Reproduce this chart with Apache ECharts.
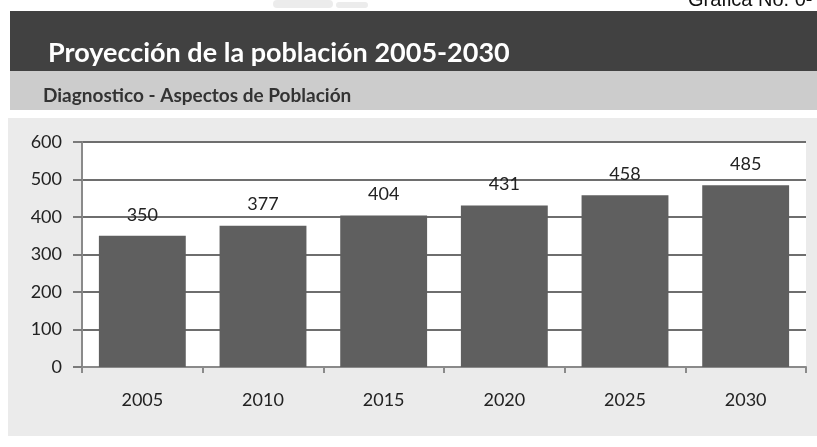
<!DOCTYPE html>
<html>
<head>
<meta charset="utf-8">
<script src="https://cdn.jsdelivr.net/npm/echarts@6/dist/echarts.min.js"></script>
<style>
html,body{margin:0;padding:0;background:#fff;}
#c{width:817px;height:447px;}
</style>
</head>
<body>
<div id="c"></div>
<script>
const categories = ['2005', '2010', '2015', '2020', '2025', '2030'];
const poblacion = [350, 377, 404, 431, 458, 485];
const yTicks = [0, 100, 200, 300, 400, 500, 600];

const titleText = 'Proyección de la población 2005-2030';
const subtitleText = 'Diagnostico - Aspectos de Población';
const cornerText = 'Grafica No. 0-';

const chart = echarts.init(document.getElementById('c'), null, {renderer: 'canvas'});
const FONT = 'Lato, "Open Sans", sans-serif';

chart.setOption({
  backgroundColor: '#ffffff',
  animation: false,
  graphic: [
    {type: 'rect', z: -10, shape: {x: 10, y: 11, width: 807, height: 60}, style: {fill: '#414141'}},
    {type: 'rect', z: -10, shape: {x: 10, y: 71, width: 807, height: 39}, style: {fill: '#cccccc'}},
    {type: 'rect', z: -10, shape: {x: 8, y: 118, width: 809, height: 318}, style: {fill: '#ebebeb'}},
    {type: 'rect', z: -10, shape: {x: 273, y: 0, width: 60, height: 8, r: 4}, style: {fill: '#ececec'}},
    {type: 'rect', z: -10, shape: {x: 336, y: 2, width: 32, height: 6, r: 3}, style: {fill: '#ececec'}},
    {type: 'text', z: 10, style: {x: 48, y: 53, text: titleText, fill: '#ffffff', font: 'bold 27px ' + FONT, verticalAlign: 'middle'}},
    {type: 'text', z: 10, style: {x: 43, y: 96, text: subtitleText, fill: '#333333', font: 'bold 19px ' + FONT, verticalAlign: 'middle'}},
    {type: 'text', z: -5, style: {x: 688, y: 0, text: cornerText, fill: '#111111', font: '20px "Liberation Sans", Arial, sans-serif', verticalAlign: 'middle'}}
  ],
  grid: {
    left: 82, right: 11, top: 142, bottom: 80,
    show: true, backgroundColor: '#ffffff', borderWidth: 0
  },
  xAxis: {
    type: 'category',
    data: categories,
    boundaryGap: true,
    axisLine: {show: true, lineStyle: {color: '#8a8a8a', width: 2}},
    axisTick: {show: true, length: 6, lineStyle: {color: '#8a8a8a', width: 2}},
    axisLabel: {color: '#222222', fontSize: 18, fontFamily: FONT, margin: 24},
    splitLine: {show: false}
  },
  yAxis: {
    type: 'value',
    min: yTicks[0],
    max: yTicks[yTicks.length - 1],
    interval: 100,
    axisLine: {show: true, lineStyle: {color: '#8a8a8a', width: 2}},
    axisTick: {show: true, length: 9, lineStyle: {color: '#7a7a7a', width: 2}},
    axisLabel: {color: '#222222', fontSize: 18, fontFamily: FONT, margin: 20},
    splitLine: {show: true, lineStyle: {color: '#6e6e6e', width: 2}}
  },
  series: [{
    type: 'bar',
    data: poblacion,
    barWidth: '72%',
    itemStyle: {color: '#5f5f5f'},
    label: {
      show: true, position: 'top', distance: 12,
      color: '#222222', fontSize: 18, fontFamily: FONT
    }
  }]
});
</script>
</body>
</html>
